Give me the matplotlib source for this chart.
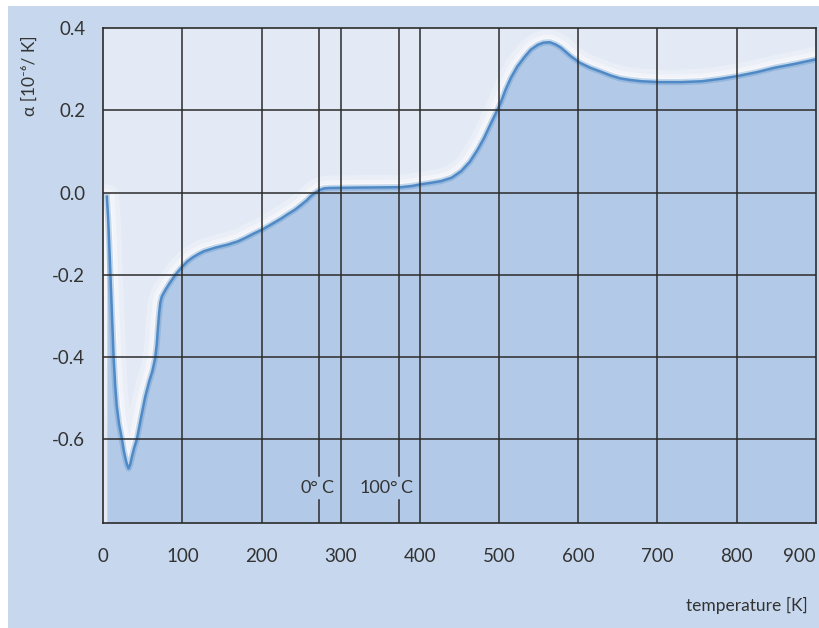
import numpy as np
import matplotlib
matplotlib.use("Agg")
from matplotlib import pyplot as plt
from matplotlib.patches import Rectangle

plt.rcParams['font.family'] = ['Lato', 'DejaVu Sans']

# thermal expansion coefficient vs. temperature
temperature = [4.5, 6, 7, 8, 9, 11, 13, 15, 17, 20, 23.5, 26, 28, 30, 32, 34, 36, 39,
               42.5, 48, 53, 58, 62, 65.5, 67.5, 69, 70.5, 72, 74, 78.5, 84, 92,
               100, 106, 113, 120, 127, 142, 157, 170, 180, 190, 201, 210, 218, 225,
               232, 242, 250, 257, 262, 268, 273, 279, 285, 320, 376, 390, 401, 415,
               427, 440, 452, 463, 473, 481, 488, 495, 502, 508, 515, 523, 532, 540,
               549, 556, 564, 571, 578, 590, 602, 615, 629, 641, 653, 666, 680, 702,
               730, 756, 780, 802, 825, 848, 875, 899]
alpha = [-0.01, -0.06, -0.1, -0.15, -0.2, -0.3, -0.4, -0.47, -0.52, -0.565, -0.6,
         -0.63, -0.648, -0.663, -0.672, -0.662, -0.645, -0.622, -0.6, -0.545, -0.497,
         -0.46, -0.435, -0.404, -0.37, -0.33, -0.294, -0.268, -0.253, -0.237, -0.22,
         -0.198, -0.18, -0.168, -0.158, -0.15, -0.143, -0.134, -0.127, -0.119, -0.11,
         -0.1, -0.09, -0.08, -0.071, -0.063, -0.054, -0.042, -0.03, -0.019, -0.009,
         0.0, 0.006, 0.01, 0.011, 0.012, 0.013, 0.016, 0.02, 0.024, 0.028, 0.036,
         0.052, 0.075, 0.105, 0.133, 0.162, 0.19, 0.219, 0.25, 0.28, 0.307, 0.33,
         0.348, 0.36, 0.365, 0.366, 0.361, 0.353, 0.333, 0.316, 0.304, 0.294, 0.285,
         0.278, 0.274, 0.271, 0.269, 0.269, 0.271, 0.277, 0.284, 0.293, 0.304, 0.314,
         0.324]

x_ticks = [0, 100, 200, 300, 400, 500, 600, 700, 800, 900]
y_ticks = [0.4, 0.2, 0.0, -0.2, -0.4, -0.6]
y_tick_labels = ['0.4', '0.2', '0.0', '-0.2', '-0.4', '-0.6']
celsius_marks = [273, 373]
celsius_labels = ['0°', '100°']

bg = '#c7d8ee'
upper = '#e3e9f5'
fill = '#b2cae7'
line_col = '#4f8ac6'
grid_col = '#2b2b2b'
text_col = '#333333'

fig = plt.figure(figsize=(8.19, 6.28), dpi=100, facecolor='white')
fig.patches.append(Rectangle((8 / 819, 0), 1, (628 - 6) / 628, transform=fig.transFigure,
                             facecolor=bg, edgecolor='none', zorder=-10))

ax = fig.add_axes([103.3 / 819, 105 / 628, 712.5 / 819, 494.7 / 628])
ax.set_facecolor(upper)
ax.set_xlim(0, 900)
ax.set_ylim(-0.805, 0.4)

T = np.array(temperature)
a = np.array(alpha)

# soft halo above the curve
for lw, al in [(18, 0.25), (11, 0.4), (6, 0.55)]:
    ax.plot(T, a, color='white', lw=lw, alpha=al, solid_capstyle='round', zorder=1)
ax.fill_between(T, a, -0.805, color=fill, lw=0, zorder=2)
ax.plot(T, a, color=line_col, lw=4.5, alpha=0.3, zorder=3)
ax.plot(T, a, color=line_col, lw=1.8, zorder=3)

# grid
for xv in x_ticks[1:-1]:
    ax.plot([xv, xv], [-0.805, 0.4], color=grid_col, lw=1.1, zorder=4)
for yv in y_ticks[1:]:
    ax.plot([0, 900], [yv, yv], color=grid_col, lw=1.1, zorder=4)

# 0 °C and 100 °C markers, broken around their labels
for xv, lab in zip(celsius_marks, celsius_labels):
    ax.plot([xv, xv], [-0.69, 0.4], color=grid_col, lw=1.1, zorder=4)
    ax.plot([xv, xv], [-0.805, -0.748], color=grid_col, lw=1.1, zorder=4)
    ax.text(xv - 1, -0.719, lab, ha='right', va='center', fontsize=13, color=text_col)
    ax.text(xv + 2, -0.719, 'C', ha='left', va='center', fontsize=13, color=text_col)

for s in ax.spines.values():
    s.set_color(grid_col)
    s.set_linewidth(1.2)
    s.set_zorder(5)

ax.set_xticks(x_ticks)
ax.set_xticklabels([str(v) for v in x_ticks])
ax.set_yticks(y_ticks)
ax.set_yticklabels(y_tick_labels)
ax.tick_params(length=0, labelsize=13.5, labelcolor=text_col)
ax.tick_params(axis='x', pad=18)
ax.tick_params(axis='y', pad=13)
ax.get_xticklabels()[-1].set_ha('right')

fig.text(30 / 819, 1 - 76 / 628, 'α [10⁻⁶/ K]', rotation=90, ha='center', va='center',
         fontsize=12.5, color=text_col)
fig.text(808 / 819, 1 - 605 / 628, 'temperature [K]', ha='right', va='center',
         fontsize=12.5, color=text_col)

fig.savefig('out.png', dpi=100, facecolor=fig.get_facecolor())
